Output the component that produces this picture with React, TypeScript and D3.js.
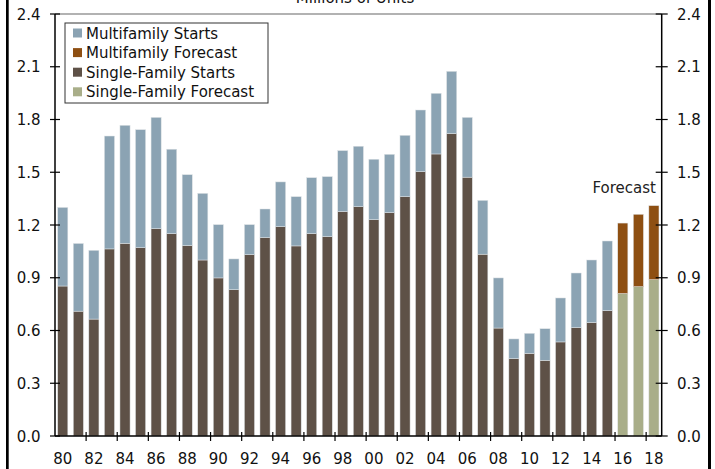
import React from "react";
import * as d3 from "d3";

const years = d3.range(1980, 2019).map((y) => String(y));
const singleFamily = [
  0.853, 0.71, 0.665, 1.064, 1.096, 1.071, 1.179, 1.151, 1.083, 1.001,
  0.899, 0.832, 1.031, 1.128, 1.191, 1.081, 1.151, 1.134, 1.276, 1.304,
  1.23, 1.27, 1.361, 1.503, 1.604, 1.72, 1.472, 1.034, 0.614, 0.44,
  0.47, 0.43, 0.535, 0.616, 0.645, 0.713, 0.81, 0.849, 0.889,
];
const multifamily = [
  0.447, 0.385, 0.391, 0.642, 0.671, 0.671, 0.633, 0.48, 0.403, 0.379,
  0.303, 0.175, 0.171, 0.163, 0.254, 0.28, 0.318, 0.341, 0.347, 0.344,
  0.344, 0.332, 0.349, 0.351, 0.345, 0.354, 0.34, 0.306, 0.285, 0.112,
  0.114, 0.18, 0.25, 0.311, 0.356, 0.396, 0.401, 0.412, 0.421,
];
const forecastFrom = "2016";
const yTicks = [0, 0.3, 0.6, 0.9, 1.2, 1.5, 1.8, 2.1, 2.4];
const legendItems = [
  "Multifamily Starts",
  "Multifamily Forecast",
  "Single-Family Starts",
  "Single-Family Forecast",
];

const COLORS = {
  mf: "#8ba3b3",
  mfF: "#8e4f12",
  sf: "#5e5147",
  sfF: "#a9ae89",
};
const legendColors = [COLORS.mf, COLORS.mfF, COLORS.sf, COLORS.sfF];

const W = 715;
const H = 469;
const left = 55;
const right = 661.7;
const top = 14;
const bottom = 436;
const FONT = "'DejaVu Sans', Verdana, sans-serif";

export default function App() {
  const x = d3.scaleBand<string>().domain(years).range([left, right]).paddingInner(0.35).paddingOuter(0.175);
  const y = d3.scaleLinear().domain([0, 2.4]).range([bottom, top]);
  const step = x.step();
  const bandStart = (yr: string) => (x(yr) as number) - (step - x.bandwidth()) / 2;

  const data = years.map((yr, i) => ({
    yr,
    sf: singleFamily[i],
    mf: multifamily[i],
    fc: +yr >= +forecastFrom,
  }));

  return (
    <svg width={W} height={H} style={{ position: "absolute", left: 0, top: 0, background: "#fff" }} fontFamily={FONT}>
      <rect x={0} y={0} width={W} height={H} fill="#fff" />
      <rect x={6} y={0} width={2.7} height={H} fill="#000" />
      <rect x={708} y={0} width={3} height={H} fill="#000" />
      <text x={355} y={3} textAnchor="middle" fontSize={15} fill="#111">Millions of Units</text>
      <line x1={left} x2={right} y1={top} y2={top} stroke="#666" strokeWidth={1.2} />

      {data.map((d) => (
        <g key={d.yr}>
          <rect
            x={x(d.yr)}
            width={x.bandwidth()}
            y={y(d.sf)}
            height={y(0) - y(d.sf)}
            fill={d.fc ? COLORS.sfF : COLORS.sf}
            stroke="#dfe3e6"
            strokeWidth={0.5}
          />
          <rect
            x={x(d.yr)}
            width={x.bandwidth()}
            y={y(d.sf + d.mf)}
            height={y(d.sf) - y(d.sf + d.mf)}
            fill={d.fc ? COLORS.mfF : COLORS.mf}
            stroke="#dfe3e6"
            strokeWidth={0.5}
          />
        </g>
      ))}

      {/* axes */}
      <line x1={left} x2={left} y1={top} y2={bottom} stroke="#000" strokeWidth={1.5} />
      <line x1={right} x2={right} y1={top} y2={bottom} stroke="#000" strokeWidth={1.5} />
      <line x1={left} x2={right} y1={bottom} y2={bottom} stroke="#000" strokeWidth={1.5} />
      {yTicks.map((t) => (
        <g key={t}>
          <line x1={left - 5} x2={left + 5} y1={y(t)} y2={y(t)} stroke="#000" strokeWidth={1.2} />
          <line x1={right - 6} x2={right + 6} y1={y(t)} y2={y(t)} stroke="#000" strokeWidth={1.2} />
          <text x={40.5} y={y(t) + 5.5} textAnchor="end" fontSize={15} fill="#111">{t.toFixed(1)}</text>
          <text x={677} y={y(t) + 5.5} textAnchor="start" fontSize={15} fill="#111">{t.toFixed(1)}</text>
        </g>
      ))}
      {years.map((yr, i) =>
        i % 2 === 0 ? (
          <g key={yr}>
            {i > 0 && (
              <line x1={bandStart(yr)} x2={bandStart(yr)} y1={bottom - 4} y2={bottom + 5} stroke="#000" strokeWidth={1.2} />
            )}
            <text x={(x(yr) as number) + x.bandwidth() / 2} y={463.5} textAnchor="middle" fontSize={15} fill="#111">
              {yr.slice(2)}
            </text>
          </g>
        ) : null
      )}

      <text x={656} y={192.5} textAnchor="end" fontSize={15} fill="#222">Forecast</text>

      {/* legend */}
      <rect x={65} y={23} width={203} height={80} fill="#fff" stroke="#333" strokeWidth={1} />
      {legendItems.map((name, i) => (
        <g key={name}>
          <rect x={73} y={28.5 + i * 19.6} width={9} height={9} fill={legendColors[i]} />
          <text x={86} y={38.5 + i * 19.6} fontSize={15} fill="#111">{name}</text>
        </g>
      ))}
    </svg>
  );
}
